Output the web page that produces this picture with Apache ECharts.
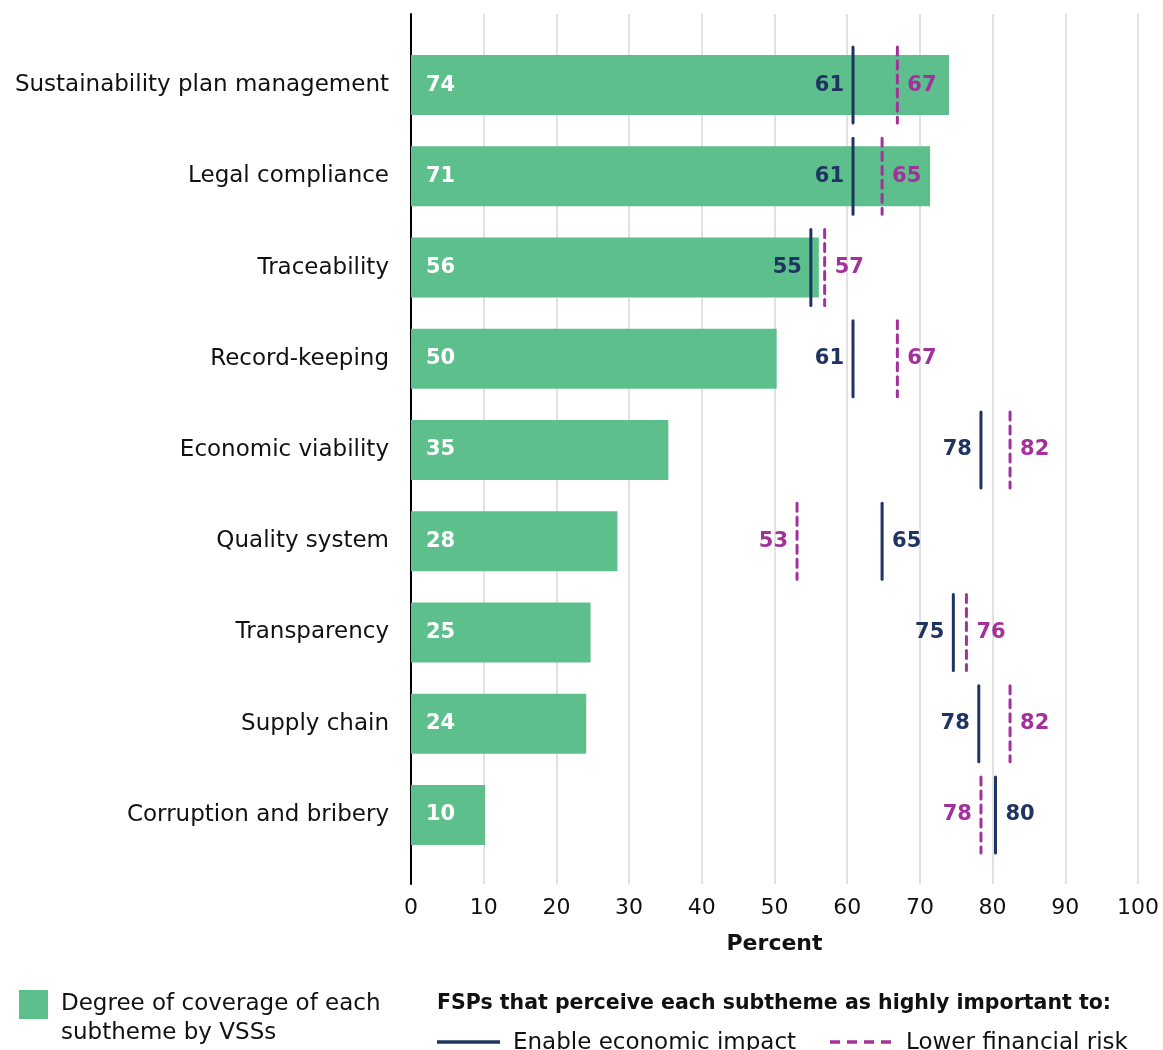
<!DOCTYPE html>
<html>
<head>
<meta charset="utf-8">
<script src="https://cdn.jsdelivr.net/npm/echarts@6/dist/echarts.min.js"></script>
<style>
  html, body { margin: 0; padding: 0; background: #fff; }
  #chart { width: 1163px; height: 1050px; }
</style>
</head>
<body>
<div id="chart"></div>
<script>
  // data
  var categories = [
    'Sustainability plan management',
    'Legal compliance',
    'Traceability',
    'Record-keeping',
    'Economic viability',
    'Quality system',
    'Transparency',
    'Supply chain',
    'Corruption and bribery'
  ];
  var coverage = [74, 71.4, 56.1, 50.3, 35.4, 28.4, 24.7, 24.1, 10.2];
  var economicImpact = [60.8, 60.8, 55.0, 60.8, 78.4, 64.8, 74.6, 78.1, 80.4];
  var financialRisk = [66.9, 64.8, 56.9, 66.9, 82.4, 53.1, 76.4, 82.4, 78.4];
  var xTicks = [0, 10, 20, 30, 40, 50, 60, 70, 80, 90, 100];

  var colors = {
    green: '#5cbf8c',
    navy: '#1f3461',
    magenta: '#a3309b'
  };
  var font = 'DejaVu Sans';

  function markerData(values, others) {
    return values.map(function (v, i) { return [v, i, others[i]]; });
  }

  // vertical tick mark + bold value, label goes on the outer side of the pair
  function markerRender(color, dashed) {
    return function (params, api) {
      var v = api.value(0), idx = api.value(1), other = api.value(2);
      var p = api.coord([v, idx]);
      var half = 38;
      var leftSide = v < other;
      return {
        type: 'group',
        children: [
          {
            type: 'line',
            shape: { x1: p[0], y1: p[1] - half, x2: p[0], y2: p[1] + half },
            style: {
              stroke: color,
              lineWidth: 3,
              lineDash: dashed ? [8, 6] : null,
              lineCap: 'round'
            }
          },
          {
            type: 'text',
            x: leftSide ? p[0] - 9 : p[0] + 10,
            y: p[1],
            style: {
              text: String(Math.round(v)),
              fill: color,
              font: 'bold 21px ' + font,
              align: leftSide ? 'right' : 'left',
              verticalAlign: 'middle'
            }
          }
        ]
      };
    };
  }

  var myChart = echarts.init(document.getElementById('chart'));
  myChart.setOption({
    animation: false,
    textStyle: { fontFamily: font },
    grid: [
      { left: 411, right: 25, top: 14, bottom: 166 },
      { left: 411, right: 25, top: 39.5, height: 821 }
    ],
    xAxis: [
      {
        gridIndex: 0,
        type: 'value',
        min: 0,
        max: 100,
        interval: 10,
        axisLine: { show: false },
        axisTick: { show: false },
        splitLine: { lineStyle: { color: '#d9d9d9', width: 1.5 } },
        axisLabel: {
          color: '#111',
          fontSize: 22,
          margin: 13,
          formatter: function (v) { return xTicks.indexOf(v) >= 0 ? String(v) : ''; }
        },
        name: 'Percent',
        nameLocation: 'middle',
        nameGap: 49,
        nameTextStyle: { color: '#111', fontSize: 22, fontWeight: 'bold' }
      },
      {
        gridIndex: 1,
        type: 'value',
        min: 0,
        max: 100,
        show: false
      }
    ],
    yAxis: [
      {
        gridIndex: 0,
        type: 'value',
        min: 0,
        max: 1,
        axisLine: { show: true, lineStyle: { color: '#000', width: 2 } },
        axisTick: { show: false },
        axisLabel: { show: false },
        splitLine: { show: false }
      },
      {
        gridIndex: 1,
        type: 'category',
        inverse: true,
        data: categories,
        axisLine: { show: false },
        axisTick: { show: false },
        axisLabel: { color: '#111', fontSize: 23, margin: 22 }
      }
    ],
    series: [
      {
        name: 'Degree of coverage',
        type: 'bar',
        xAxisIndex: 1,
        yAxisIndex: 1,
        data: coverage,
        barWidth: 60,
        itemStyle: { color: colors.green },
        label: {
          show: true,
          position: 'insideLeft',
          offset: [10, 0],
          color: '#fff',
          fontSize: 21,
          fontWeight: 'bold',
          formatter: function (p) { return Math.round(p.value); }
        }
      },
      {
        name: 'Enable economic impact',
        type: 'custom',
        xAxisIndex: 1,
        yAxisIndex: 1,
        data: markerData(economicImpact, financialRisk),
        encode: { x: 0, y: 1 },
        renderItem: markerRender(colors.navy, false),
        z: 5
      },
      {
        name: 'Lower financial risk',
        type: 'custom',
        xAxisIndex: 1,
        yAxisIndex: 1,
        data: markerData(financialRisk, economicImpact),
        encode: { x: 0, y: 1 },
        renderItem: markerRender(colors.magenta, true),
        z: 5
      }
    ],
    graphic: [
      { type: 'rect', left: 19, top: 990, shape: { width: 29, height: 29 }, style: { fill: colors.green } },
      { type: 'text', left: 61, top: 990, style: { text: 'Degree of coverage of each\nsubtheme by VSSs', font: '23px ' + font, fill: '#111', lineHeight: 29 } },
      { type: 'text', left: 437, top: 993, style: { text: 'FSPs that perceive each subtheme as highly important to:', font: 'bold 20.5px ' + font, fill: '#111' } },
      { type: 'line', shape: { x1: 437, y1: 1042, x2: 500, y2: 1042 }, style: { stroke: colors.navy, lineWidth: 3.5 } },
      { type: 'text', left: 513, top: 1032, style: { text: 'Enable economic impact', font: '23px ' + font, fill: '#111' } },
      { type: 'line', shape: { x1: 830, y1: 1042, x2: 893, y2: 1042 }, style: { stroke: colors.magenta, lineWidth: 3.5, lineDash: [10, 7] } },
      { type: 'text', left: 906, top: 1032, style: { text: 'Lower financial risk', font: '23px ' + font, fill: '#111' } }
    ]
  });
</script>
</body>
</html>
